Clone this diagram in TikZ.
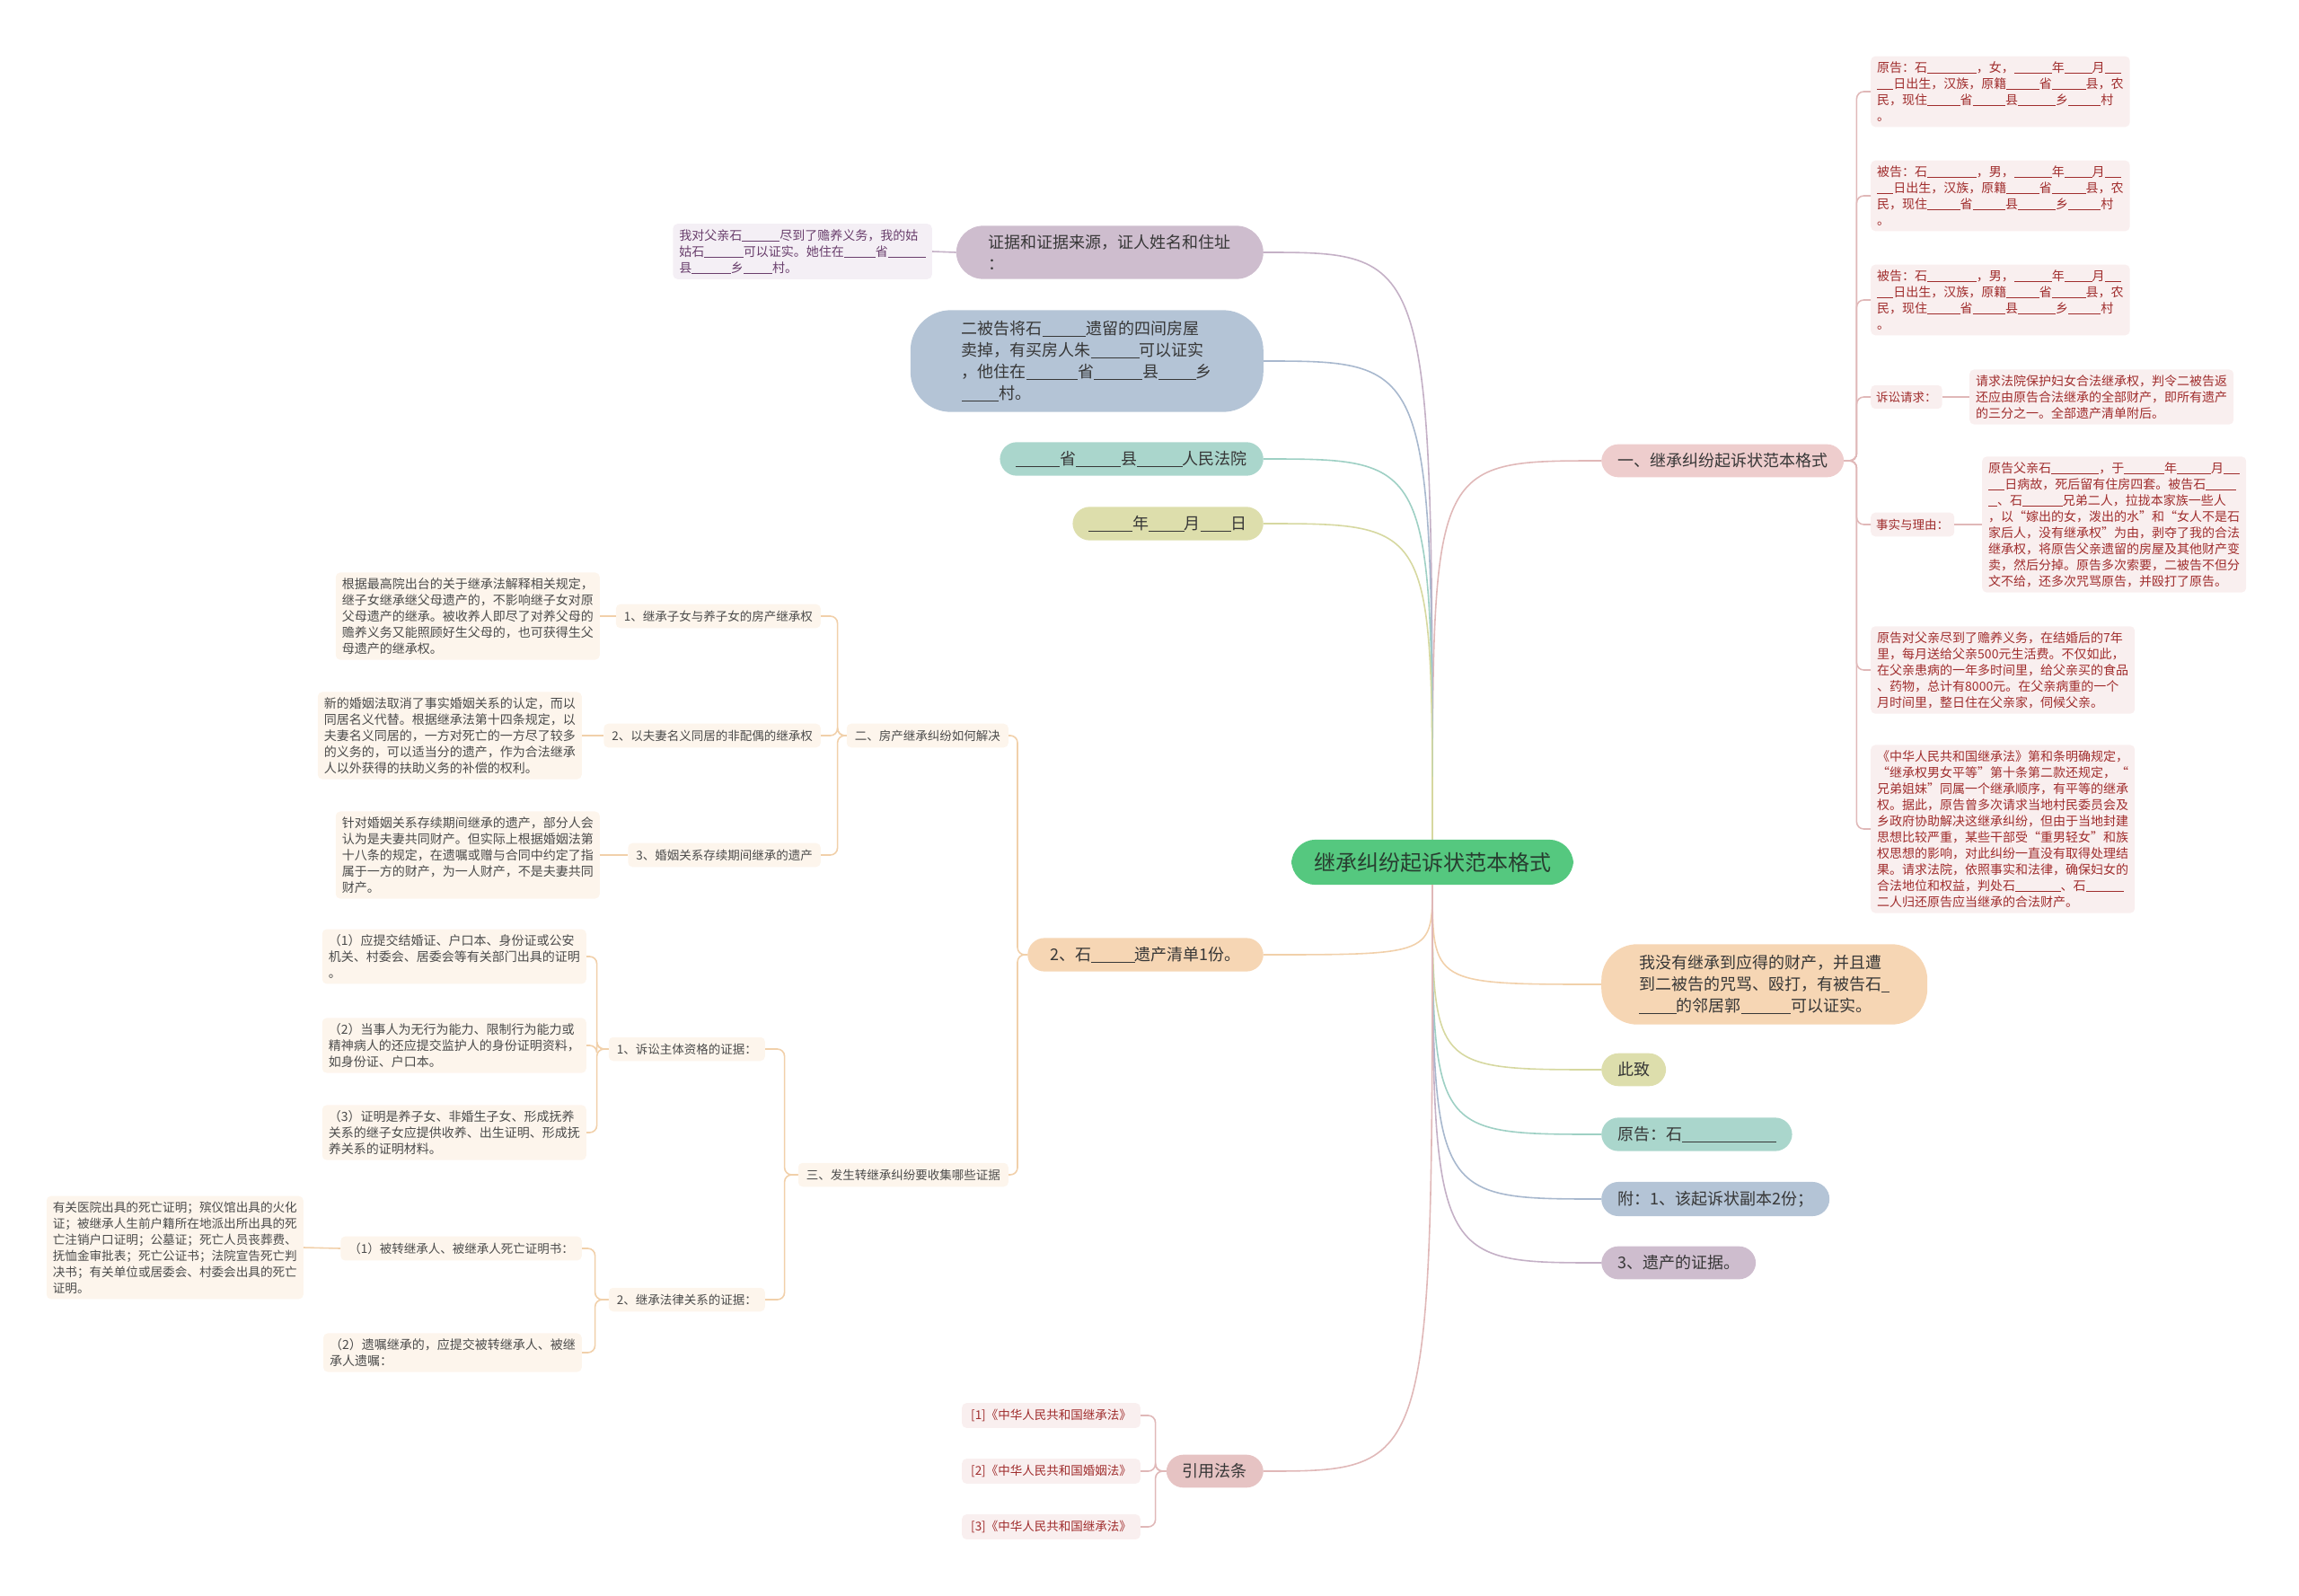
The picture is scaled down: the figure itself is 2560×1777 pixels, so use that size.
\documentclass[tikz,border=0pt]{standalone}
\usepackage{fontspec}
\setmainfont{Noto Sans CJK SC}
\usepackage{xcolor}
\definecolor{rootgreen}{RGB}{85,200,127}
\definecolor{roottext}{RGB}{40,62,48}
\definecolor{maintext}{RGB}{55,55,55}
\definecolor{cpink}{RGB}{238,205,205}
\definecolor{crose}{RGB}{230,195,195}
\definecolor{cpeach}{RGB}{246,214,180}
\definecolor{colive}{RGB}{221,222,172}
\definecolor{cteal}{RGB}{170,214,204}
\definecolor{cblue}{RGB}{180,196,214}
\definecolor{cmauve}{RGB}{206,189,206}
\definecolor{lpink}{RGB}{224,184,184}
\definecolor{lpeach}{RGB}{241,208,170}
\definecolor{lolive}{RGB}{214,216,160}
\definecolor{lteal}{RGB}{158,208,196}
\definecolor{lblue}{RGB}{168,184,206}
\definecolor{lmauve}{RGB}{196,176,198}
\definecolor{obox}{RGB}{253,245,236}
\definecolor{otext}{RGB}{75,75,75}
\definecolor{pbox}{RGB}{249,239,239}
\definecolor{ptext}{RGB}{160,45,45}
\definecolor{mbox}{RGB}{244,239,245}
\definecolor{mtext}{RGB}{105,62,108}
\usetikzlibrary{positioning}
\newcommand{\blk}[1]{\rule[-.12em]{#1em}{.06em}}

\begin{document}
\begin{tikzpicture}[x=1pt,y=-1pt,
  root/.style={fill=rootgreen,text=roottext,rounded corners=27pt,inner xsep=25pt,inner ysep=14pt,font=\fontsize{24}{30}\selectfont},
  main/.style={rounded corners=19pt,inner xsep=18pt,inner ysep=10pt,text=maintext,align=left,font=\fontsize{18}{24}\selectfont},
  sub/.style={rounded corners=5pt,fill=obox,text=otext,inner xsep=9pt,inner ysep=7pt,font=\fontsize{13.5}{18}\selectfont},
  note/.style={rounded corners=5pt,fill=obox,text=otext,inner xsep=7pt,inner ysep=6pt,align=left,font=\fontsize{14}{18}\selectfont},
  rnote/.style={note,fill=pbox,text=ptext},
  rsub/.style={sub,fill=pbox,text=ptext,inner xsep=6pt},
  link/.style={line width=1.6pt},
  bus/.style={link,rounded corners=8pt}]
  \useasboundingbox (0,0) rectangle (2560,1777);

  \node[root] (root) at (1595,960) {继承纠纷起诉状范本格式};

  % right side
  \node[main,fill=cpink,anchor=west] (suit) at (1783,513) {一、继承纠纷起诉状范本格式};
  \node[main,fill=cpeach,anchor=west,rounded corners=40pt,inner xsep=42pt,inner ysep=12pt] (nogain) at (1783,1096) {我没有继承到应得的财产，并且遭\\到二被告的咒骂、殴打，有被告石\blk{0.5}\\\blk{2.3}的邻居郭\blk{3.1}可以证实。};
  \node[main,fill=colive,anchor=west] (salute) at (1783,1191) {此致};
  \node[main,fill=cteal,anchor=west] (signer) at (1783,1263) {原告：石\blk{5.8}};
  \node[main,fill=cblue,anchor=west] (annex) at (1783,1335) {附：1、该起诉状副本2份；};
  \node[main,fill=cmauve,anchor=west] (proof) at (1783,1406) {3、遗产的证据。};

  \node[rnote,anchor=west] (plaintiff) at (2083,102) {原告：石\blk{3.9}，女，\blk{3}年\blk{2.2}月\blk{1.3}\\\blk{1.3}日出生，汉族，原籍\blk{2.6}省\blk{2.7}县，农\\民，现住\blk{2.6}省\blk{2.6}县\blk{3}乡\blk{2.6}村\\。};
  \node[rnote,anchor=west] (defa) at (2083,218) {被告：石\blk{3.9}，男，\blk{3}年\blk{2.2}月\blk{1.3}\\\blk{1.3}日出生，汉族，原籍\blk{2.6}省\blk{2.7}县，农\\民，现住\blk{2.6}省\blk{2.6}县\blk{3}乡\blk{2.6}村\\。};
  \node[rnote,anchor=west] (defb) at (2083,334) {被告：石\blk{3.9}，男，\blk{3}年\blk{2.2}月\blk{1.3}\\\blk{1.3}日出生，汉族，原籍\blk{2.6}省\blk{2.7}县，农\\民，现住\blk{2.6}省\blk{2.6}县\blk{3}乡\blk{2.6}村\\。};
  \node[rsub,anchor=west] (claim) at (2083,442) {诉讼请求：};
  \node[rnote,anchor=west] (claimnote) at (2193,442) {请求法院保护妇女合法继承权，判令二被告返\\还应由原告合法继承的全部财产，即所有遗产\\的三分之一。全部遗产清单附后。};
  \node[rsub,anchor=west] (facts) at (2083,584) {事实与理由：};
  \node[rnote,anchor=west] (factsnote) at (2207,584) {原告父亲石\blk{3.8}，于\blk{3.2}年\blk{2.7}月\blk{1.3}\\\blk{1.3}日病故，死后留有住房四套。被告石\blk{2.4}\\\blk{0.7}、石\blk{3.2}兄弟二人，拉拢本家族一些人\\，以“嫁出的女，泼出的水”和“女人不是石\\家后人，没有继承权”为由，剥夺了我的合法\\继承权，将原告父亲遗留的房屋及其他财产变\\卖，然后分掉。原告多次索要，二被告不但分\\文不给，还多次咒骂原告，并殴打了原告。};
  \node[rnote,anchor=west] (support) at (2083,746) {原告对父亲尽到了赡养义务，在结婚后的7年\\里，每月送给父亲500元生活费。不仅如此，\\在父亲患病的一年多时间里，给父亲买的食品\\、药物，总计有8000元。在父亲病重的一个\\月时间里，整日住在父亲家，伺候父亲。};
  \node[rnote,anchor=west] (lawnote) at (2083,923) {《中华人民共和国继承法》第和条明确规定，\\“继承权男女平等”第十条第二款还规定，“\\兄弟姐妹”同属一个继承顺序，有平等的继承\\权。据此，原告曾多次请求当地村民委员会及\\乡政府协助解决这继承纠纷，但由于当地封建\\思想比较严重，某些干部受“重男轻女”和族\\权思想的影响，对此纠纷一直没有取得处理结\\果。请求法院，依照事实和法律，确保妇女的\\合法地位和权益，判处石\blk{3.6}、石\blk{3}\\二人归还原告应当继承的合法财产。};

  % left side
  \node[main,fill=cmauve,anchor=east,rounded corners=30pt,inner xsep=36pt] (witness) at (1407,281) {证据和证据来源，证人姓名和住址\\：};
  \node[note,fill=mbox,text=mtext,anchor=east] (witnote) at (1038,280) {我对父亲石\blk{3}尽到了赡养义务，我的姑\\姑石\blk{3.1}可以证实。她住在\blk{2.5}省\blk{3}\\县\blk{3.1}乡\blk{2.3}村。};
  \node[main,fill=cblue,anchor=east,rounded corners=45pt,inner xsep=57pt,inner ysep=12pt] (sold) at (1407,402) {二被告将石\blk{2.7}遗留的四间房屋\\卖掉，有买房人朱\blk{3}可以证实\\，他住在\blk{3.2}省\blk{3}县\blk{2.3}乡\\\blk{2.3}村。};
  \node[main,fill=cteal,anchor=east] (court) at (1407,511) {\blk{2.7}省\blk{2.8}县\blk{2.8}人民法院};
  \node[main,fill=colive,anchor=east] (date) at (1407,583) {\blk{2.7}年\blk{2.2}月\blk{1.9}日};
  \node[main,fill=cpeach,anchor=east,inner xsep=25pt] (estate) at (1407,1063) {2、石\blk{2.7}遗产清单1份。};
  \node[main,fill=crose,anchor=east] (laws) at (1407,1638) {引用法条};

  \node[sub,anchor=east] (housing) at (1123,819) {二、房产继承纠纷如何解决};
  \node[sub,anchor=east] (hone) at (914,686) {1、继承子女与养子女的房产继承权};
  \node[sub,anchor=east] (htwo) at (914,819) {2、以夫妻名义同居的非配偶的继承权};
  \node[sub,anchor=east] (hthree) at (914,952) {3、婚姻关系存续期间继承的遗产};
  \node[note,anchor=east] (honenote) at (668,686) {根据最高院出台的关于继承法解释相关规定，\\继子女继承继父母遗产的，不影响继子女对原\\父母遗产的继承。被收养人即尽了对养父母的\\赡养义务又能照顾好生父母的，也可获得生父\\母遗产的继承权。};
  \node[note,anchor=east] (htwonote) at (648,819) {新的婚姻法取消了事实婚姻关系的认定，而以\\同居名义代替。根据继承法第十四条规定，以\\夫妻名义同居的，一方对死亡的一方尽了较多\\的义务的，可以适当分的遗产，作为合法继承\\人以外获得的扶助义务的补偿的权利。};
  \node[note,anchor=east] (hthreenote) at (668,952) {针对婚姻关系存续期间继承的遗产，部分人会\\认为是夫妻共同财产。但实际上根据婚姻法第\\十八条的规定，在遗嘱或赠与合同中约定了指\\属于一方的财产，为一人财产，不是夫妻共同\\财产。};

  \node[sub,anchor=east] (transfer) at (1123,1308) {三、发生转继承纠纷要收集哪些证据};
  \node[sub,anchor=east] (standing) at (852,1168) {1、诉讼主体资格的证据：};
  \node[note,anchor=east] (stone) at (653,1065) {（1）应提交结婚证、户口本、身份证或公安\\机关、村委会、居委会等有关部门出具的证明\\。};
  \node[note,anchor=east] (sttwo) at (653,1164) {（2）当事人为无行为能力、限制行为能力或\\精神病人的还应提交监护人的身份证明资料，\\如身份证、户口本。};
  \node[note,anchor=east] (stthree) at (653,1261) {（3）证明是养子女、非婚生子女、形成抚养\\关系的继子女应提供收养、出生证明、形成抚\\养关系的证明材料。};
  \node[sub,anchor=east] (relation) at (852,1447) {2、继承法律关系的证据：};
  \node[sub,anchor=east] (death) at (648,1390) {（1）被转继承人、被继承人死亡证明书：};
  \node[note,anchor=east,font=\fontsize{13.6}{18}\selectfont] (deathnote) at (338,1389) {有关医院出具的死亡证明；殡仪馆出具的火化\\证；被继承人生前户籍所在地派出所出具的死\\亡注销户口证明；公墓证；死亡人员丧葬费、\\抚恤金审批表；死亡公证书；法院宣告死亡判\\决书；有关单位或居委会、村委会出具的死亡\\证明。};
  \node[note,anchor=east] (will) at (648,1506) {（2）遗嘱继承的，应提交被转继承人、被继\\承人遗嘱：};

  \node[rsub,anchor=east,inner xsep=10pt] (refa) at (1270,1576) {[1]《中华人民共和国继承法》};
  \node[rsub,anchor=east,inner xsep=10pt] (refb) at (1270,1638) {[2]《中华人民共和国婚姻法》};
  \node[rsub,anchor=east,inner xsep=10pt] (refc) at (1270,1700) {[3]《中华人民共和国继承法》};

  % root connectors
  \draw[link,lpink] (root.north) .. controls (root.north |- suit.west) .. (suit.west);
  \draw[link,lpeach] (root.south) .. controls (root.south |- nogain.west) .. (nogain.west);
  \draw[link,lolive] (root.south) .. controls (root.south |- salute.west) .. (salute.west);
  \draw[link,lteal] (root.south) .. controls (root.south |- signer.west) .. (signer.west);
  \draw[link,lblue] (root.south) .. controls (root.south |- annex.west) .. (annex.west);
  \draw[link,lmauve] (root.south) .. controls (root.south |- proof.west) .. (proof.west);
  \draw[link,lmauve] (root.north) .. controls (root.north |- witness.east) .. (witness.east);
  \draw[link,lblue] (root.north) .. controls (root.north |- sold.east) .. (sold.east);
  \draw[link,lteal] (root.north) .. controls (root.north |- court.east) .. (court.east);
  \draw[link,lolive] (root.north) .. controls (root.north |- date.east) .. (date.east);
  \draw[link,lpeach] (root.south) .. controls (root.south |- estate.east) .. (estate.east);
  \draw[link,lpink] (root.south) .. controls (root.south |- laws.east) .. (laws.east);

  % branch connectors
  \draw[bus,lpink] (suit.east) -- ++(14,0) |- (plaintiff.west);
  \draw[bus,lpink] (suit.east) -- ++(14,0) |- (defa.west);
  \draw[bus,lpink] (suit.east) -- ++(14,0) |- (defb.west);
  \draw[bus,lpink] (suit.east) -- ++(14,0) |- (claim.west);
  \draw[bus,lpink] (suit.east) -- ++(14,0) |- (facts.west);
  \draw[bus,lpink] (suit.east) -- ++(14,0) |- (support.west);
  \draw[bus,lpink] (suit.east) -- ++(14,0) |- (lawnote.west);
  \draw[link,lpink] (claim.east) -- (claimnote.west);
  \draw[link,lpink] (facts.east) -- (factsnote.west);

  \draw[link,lmauve] (witness.west) -- (witnote.east);

  \draw[bus,lpeach] (estate.west) -- ++(-11,0) |- (housing.east);
  \draw[bus,lpeach] (estate.west) -- ++(-11,0) |- (transfer.east);
  \draw[bus,lpeach] (housing.west) -- ++(-10,0) |- (hone.east);
  \draw[bus,lpeach] (housing.west) -- ++(-10,0) |- (htwo.east);
  \draw[bus,lpeach] (housing.west) -- ++(-10,0) |- (hthree.east);
  \draw[link,lpeach] (hone.west) -- (honenote.east);
  \draw[link,lpeach] (htwo.west) -- (htwonote.east);
  \draw[link,lpeach] (hthree.west) -- (hthreenote.east);
  \draw[bus,lpeach] (transfer.west) -- ++(-15,0) |- (standing.east);
  \draw[bus,lpeach] (transfer.west) -- ++(-15,0) |- (relation.east);
  \draw[bus,lpeach] (standing.west) -- ++(-13,0) |- (stone.east);
  \draw[bus,lpeach] (standing.west) -- ++(-13,0) |- (sttwo.east);
  \draw[bus,lpeach] (standing.west) -- ++(-13,0) |- (stthree.east);
  \draw[bus,lpeach] (relation.west) -- ++(-15,0) |- (death.east);
  \draw[bus,lpeach] (relation.west) -- ++(-15,0) |- (will.east);
  \draw[link,lpeach] (death.west) -- (deathnote.east);

  \draw[bus,lpink] (laws.west) -- ++(-12,0) |- (refa.east);
  \draw[bus,lpink] (laws.west) -- ++(-12,0) |- (refb.east);
  \draw[bus,lpink] (laws.west) -- ++(-12,0) |- (refc.east);
\end{tikzpicture}
\end{document}
